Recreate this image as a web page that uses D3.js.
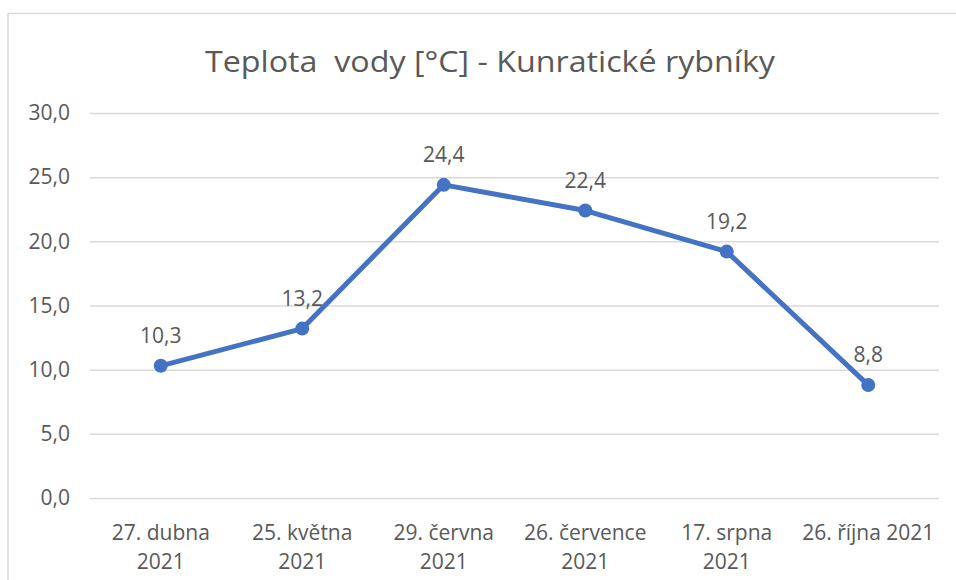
<!DOCTYPE html>
<html>
<head>
<meta charset="utf-8">
<script src="https://cdn.jsdelivr.net/npm/d3@7"></script>
<style>
  body { margin: 0; background: #fff; }
  svg { display: block; font-family: "Open Sans", sans-serif; }
</style>
</head>
<body>
<svg width="956" height="580"></svg>
<script>
// data
var categories = ["27. dubna 2021", "25. května 2021", "29. června 2021", "26. července 2021", "17. srpna 2021", "26. října 2021"];
var labelLines = [["27. dubna", "2021"], ["25. května", "2021"], ["29. června", "2021"], ["26. července", "2021"], ["17. srpna", "2021"], ["26. října 2021"]];
var values = [10.3, 13.2, 24.4, 22.4, 19.2, 8.8];
var yTicks = [0, 5, 10, 15, 20, 25, 30];
var title = "Teplota  vody [°C] - Kunratické rybníky";

var svg = d3.select("svg"),
    margin = {top: 113, right: 17, bottom: 82, left: 90},
    width = +svg.attr("width") - margin.left - margin.right,
    height = +svg.attr("height") - margin.top - margin.bottom;

var textCol = "#595959", gridCol = "#d9d9d9", lineCol = "#4472c4";
var fmt = function(d) { return d3.format(".1f")(d).replace(".", ","); };

// chart border (only top and left visible in the reference)
svg.append("rect")
    .attr("x", 8).attr("y", 13.5)
    .attr("width", 980).attr("height", 600)
    .attr("fill", "none")
    .attr("stroke", gridCol)
    .attr("stroke-width", 1.5);

svg.append("text")
    .attr("x", 490).attr("y", 72)
    .attr("text-anchor", "middle")
    .attr("fill", textCol)
    .attr("font-size", 30)
    .attr("textLength", 570)
    .attr("lengthAdjust", "spacingAndGlyphs")
    .style("white-space", "pre")
    .text(title);

var g = svg.append("g").attr("transform", "translate(" + margin.left + "," + margin.top + ")");

var x = d3.scaleBand().domain(categories).range([0, width]);
var y = d3.scaleLinear().domain([0, 30]).range([height, 0]);

// y axis + gridlines
var yAxis = g.append("g")
    .call(d3.axisLeft(y).tickValues(yTicks).tickFormat(fmt).tickSize(-width).tickPadding(20));
yAxis.select(".domain").remove();
yAxis.selectAll(".tick line").attr("stroke", gridCol).attr("stroke-width", 1.5);
yAxis.selectAll(".tick text")
    .attr("fill", textCol)
    .attr("font-size", 21)
    .attr("font-family", "Open Sans, sans-serif");

// x axis labels
var xAxis = g.append("g")
    .attr("transform", "translate(0," + height + ")")
    .call(d3.axisBottom(x).tickSize(0).tickPadding(0));
xAxis.select(".domain").remove();
xAxis.selectAll(".tick text")
    .attr("fill", textCol)
    .attr("font-size", 21)
    .attr("font-family", "Open Sans, sans-serif")
    .attr("y", 0)
    .attr("dy", null)
    .text(null)
    .each(function(d, i) {
        var t = d3.select(this);
        labelLines[i].forEach(function(line, j) {
            t.append("tspan").attr("x", 0).attr("y", 42 + j * 29).text(line);
        });
    });

var cx = function(d, i) { return x(categories[i]) + x.bandwidth() / 2; };

var line = d3.line()
    .x(cx)
    .y(function(d) { return y(d); });

g.append("path")
    .datum(values)
    .attr("fill", "none")
    .attr("stroke", lineCol)
    .attr("stroke-width", 5)
    .attr("stroke-linejoin", "round")
    .attr("d", line);

g.selectAll(".dot")
    .data(values)
    .enter().append("circle")
    .attr("class", "dot")
    .attr("cx", cx)
    .attr("cy", function(d) { return y(d); })
    .attr("r", 7)
    .attr("fill", lineCol);

g.selectAll(".lbl")
    .data(values)
    .enter().append("text")
    .attr("class", "lbl")
    .attr("x", cx)
    .attr("y", function(d) { return y(d) - 23; })
    .attr("text-anchor", "middle")
    .attr("fill", textCol)
    .attr("font-size", 21)
    .text(fmt);
</script>
</body>
</html>
